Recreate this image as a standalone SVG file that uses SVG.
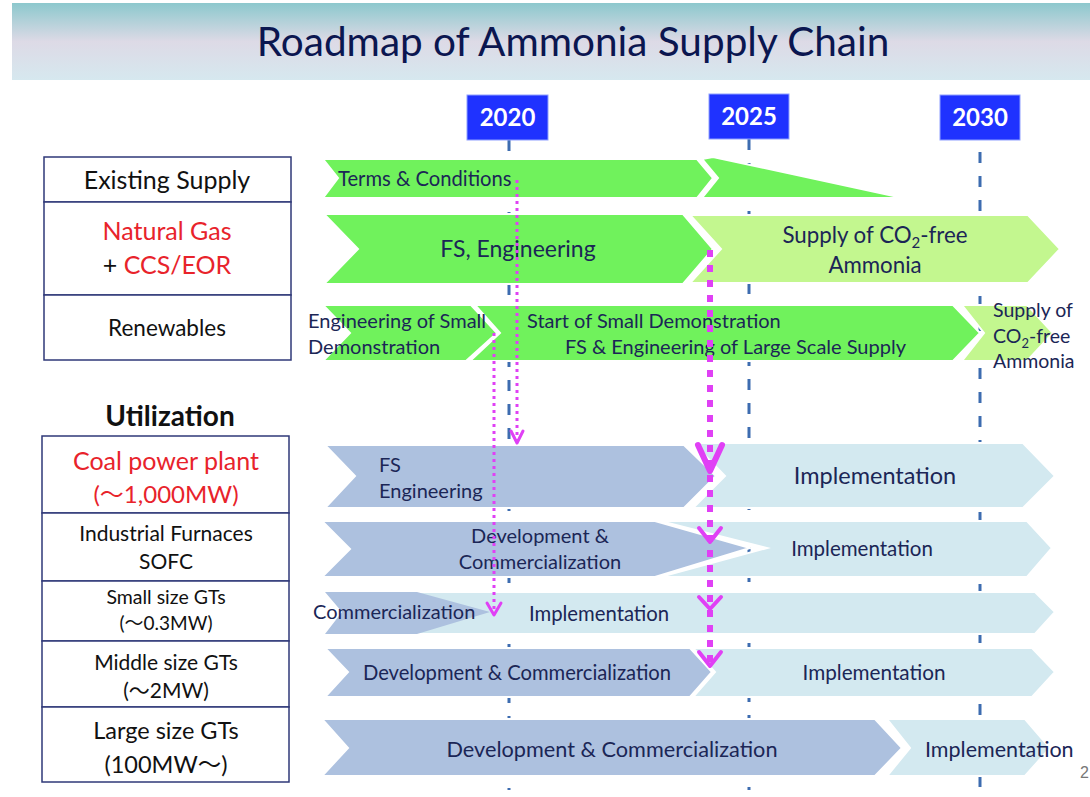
<svg xmlns="http://www.w3.org/2000/svg" width="1090" height="797" viewBox="0 0 1090 797">
<defs>
<linearGradient id="tg" x1="0" y1="0" x2="0" y2="1">
<stop offset="0" stop-color="#8cc8cd"/>
<stop offset="0.5" stop-color="#dddae6"/>
<stop offset="1" stop-color="#d6e8ef"/>
</linearGradient>
<style>
.t{font-family:Lato,"Open Sans","Liberation Sans",sans-serif;fill:#1b2656}
.lb{font-family:Lato,"Noto Sans CJK JP","Liberation Sans",sans-serif;fill:#111}
.red{fill:#e8232b}
.box{fill:#fff;stroke:#2f3878;stroke-width:1.5}
.g{fill:#70f25c;stroke:#fff;stroke-width:2}
.lg{fill:#c3f78f;stroke:#fff;stroke-width:2}
.b{fill:#adc1df;stroke:#fff;stroke-width:2}
.lbl{fill:#d3e9f0;stroke:#fff;stroke-width:2}
.yr{fill:#1f32ff;stroke:#8fa0ff;stroke-width:1}
.yt{font-family:Lato,"Open Sans","Liberation Sans",sans-serif;font-weight:bold;fill:#fff;font-size:24px}
.dl{stroke:#3d6cb0;stroke-width:3;stroke-dasharray:11 13;fill:none}
.m1{stroke:#e040f5;stroke-width:3;stroke-dasharray:3 4;fill:none}
.m2{stroke:#e040f5;stroke-width:6;stroke-dasharray:7 8;fill:none}
.ah{stroke:#e040f5;fill:none;stroke-linecap:round;stroke-linejoin:round}
</style>
</defs>
<rect width="1090" height="797" fill="#fff"/>
<g id="title">
<rect x="12" y="3" width="1078" height="77" fill="url(#tg)"/>
<text x="573" y="56" text-anchor="middle" font-family="Lato,'Open Sans','Liberation Sans',sans-serif" font-size="40.5" fill="#0b1650">Roadmap of Ammonia Supply Chain</text>
</g>
<g id="timeline">
<path class="dl" d="M509 140V790M749 139V790M980 152V790"/>
<g id="y2020"><rect class="yr" x="467" y="95" width="81" height="45"/><text class="yt" x="507.5" y="126" text-anchor="middle">2020</text></g>
<g id="y2025"><rect class="yr" x="709" y="94" width="80" height="45"/><text class="yt" x="749" y="125" text-anchor="middle">2025</text></g>
<g id="y2030"><rect class="yr" x="940" y="95" width="80" height="45"/><text class="yt" x="980" y="126" text-anchor="middle">2030</text></g>
</g>
<g id="labels">
<g id="existing"><rect class="box" x="44" y="157" width="247" height="45"/><text class="lb" x="167" y="189" text-anchor="middle" font-size="25">Existing Supply</text></g>
<g id="natgas"><rect class="box" x="44" y="202" width="247" height="93"/><text class="lb red" x="167" y="240" text-anchor="middle" font-size="25">Natural Gas</text><text class="lb" x="167" y="274" text-anchor="middle" font-size="25">+ <tspan class="red">CCS/EOR</tspan></text></g>
<g id="renew"><rect class="box" x="44" y="295" width="247" height="65"/><text class="lb" x="167" y="336" text-anchor="middle" font-size="22.5">Renewables</text></g>
<text id="util" class="lb" x="170" y="426" text-anchor="middle" font-size="28" font-weight="bold">Utilization</text>
<g id="coal"><rect class="box" x="42" y="436" width="247" height="77"/><text class="lb red" x="166" y="470" text-anchor="middle" font-size="25">Coal power plant</text><text class="lb red" x="166" y="503" text-anchor="middle" font-size="24">(～1,000MW)</text></g>
<g id="furn"><rect class="box" x="42" y="513" width="247" height="68"/><text class="lb" x="166" y="541" text-anchor="middle" font-size="21">Industrial Furnaces</text><text class="lb" x="166" y="569" text-anchor="middle" font-size="21">SOFC</text></g>
<g id="small"><rect class="box" x="42" y="581" width="247" height="60"/><text class="lb" x="166" y="604" text-anchor="middle" font-size="19.5">Small size GTs</text><text class="lb" x="166" y="630" text-anchor="middle" font-size="19">(～0.3MW)</text></g>
<g id="middle"><rect class="box" x="42" y="641" width="247" height="66"/><text class="lb" x="166" y="670" text-anchor="middle" font-size="21">Middle size GTs</text><text class="lb" x="166" y="698" text-anchor="middle" font-size="21">(～2MW)</text></g>
<g id="large"><rect class="box" x="42" y="707" width="247" height="75"/><text class="lb" x="166" y="739" text-anchor="middle" font-size="23.5">Large size GTs</text><text class="lb" x="166" y="773" text-anchor="middle" font-size="23.5">(100MW～)</text></g>
</g>
<g id="row-existing">
<polygon class="g" points="702,159 713,157 903,198 702,198 718,178"/>
<polygon class="g" points="323,159 697,159 713,178 697,198 323,198 338,178"/>
<text class="t" x="338" y="186" font-size="20.2">Terms &amp; Conditions</text>
</g>
<g id="row-natgas">
<polygon class="lg" points="690,215 1028,215 1060,249 1028,283 690,283 721,249"/>
<polygon class="g" points="324,214 683,214 713,249 683,284 324,284 358,249"/>
<text class="t" x="518" y="257" text-anchor="middle" font-size="23">FS, Engineering</text>
<text class="t" x="875" y="243" text-anchor="middle" font-size="22.3">Supply of CO<tspan font-size="15" dy="5">2</tspan><tspan dy="-5">-free</tspan></text>
<text class="t" x="875" y="273" text-anchor="middle" font-size="22.3">Ammonia</text>
</g>
<g id="row-renew">
<polygon class="lg" points="962,305 1027,305 1053,333 1027,361 962,361 984,333"/>
<polygon class="g" points="475,305 953,305 980,333 953,361 470,361 500,333"/>
<polygon class="g" points="323,305 471,305 497,333 466,361 323,361 350,333"/>
<text class="t" x="308" y="328" font-size="20">Engineering of Small</text>
<text class="t" x="308" y="354" font-size="20">Demonstration</text>
<text class="t" x="527" y="328" font-size="20">Start of Small Demonstration</text>
<text class="t" x="565" y="354" font-size="20">FS &amp; Engineering of Large Scale Supply</text>
<text class="t" x="993" y="317" font-size="19.5">Supply of</text>
<text class="t" x="993" y="343" font-size="19.5">CO<tspan font-size="13" dy="5">2</tspan><tspan dy="-5">-free</tspan></text>
<text class="t" x="993" y="368" font-size="19.5">Ammonia</text>
</g>
<g id="row-coal">
<polygon class="lbl" points="693,443 1023,443 1055,476 1023,508 693,508 725,476"/>
<polygon class="b" points="325,445 684,445 716,476 684,508 325,508 355,476"/>
<text class="t" x="379" y="472" font-size="20">FS</text>
<text class="t" x="379" y="498" font-size="20">Engineering</text>
<text class="t" x="875" y="484" text-anchor="middle" font-size="23.5">Implementation</text>
</g>
<g id="row-furn">
<polygon class="lbl" points="660,521 1027,521 1052,548 1027,577 660,577 767,548"/>
<polygon class="b" points="322,521 655,521 750,548 655,577 322,577 350,549"/>
<text class="t" x="540" y="543" text-anchor="middle" font-size="20">Development &amp;</text>
<text class="t" x="540" y="569" text-anchor="middle" font-size="20">Commercialization</text>
<text class="t" x="862" y="556" text-anchor="middle" font-size="20.5">Implementation</text>
</g>
<g id="row-small">
<polygon class="lbl" points="417,592 1035,592 1055,612 1035,634 417,634"/>
<polygon fill="#adc1df" points="325,592 417,592 490,612 417,634 325,634 342,612"/>
<text class="t" x="313" y="619" font-size="20">Commercialization</text>
<text class="t" x="529" y="621" font-size="20.3">Implementation</text>
</g>
<g id="row-middle">
<polygon class="lbl" points="693,648 1032,648 1055,672 1032,697 693,697 715,672"/>
<polygon class="b" points="325,648 690,648 712,672 690,697 325,697 348,672"/>
<text class="t" x="517" y="680" text-anchor="middle" font-size="20.2">Development &amp; Commercialization</text>
<text class="t" x="874" y="680" text-anchor="middle" font-size="20.7">Implementation</text>
</g>
<g id="row-large">
<polygon class="lbl" points="887,719 1025,719 1050,748 1025,776 887,776 910,748"/>
<polygon class="b" points="322,719 875,719 902,748 875,776 322,776 348,748"/>
<text class="t" x="612" y="757" text-anchor="middle" font-size="21.7">Development &amp; Commercialization</text>
<text class="t" x="925" y="757" font-size="21.5">Implementation</text>
</g>
<g id="connectors">
<path class="m1" d="M517 180V440"/>
<polyline class="ah" stroke-width="3" points="511,431 517,443 523,431"/>
<path class="m1" d="M494 333V612"/>
<polyline class="ah" stroke-width="3" points="487,603 494,615 501,603"/>
<path class="m2" d="M710 250V667"/>
<polyline class="ah" stroke-width="6" points="698,445 710,471 722,445"/>
<polyline class="ah" stroke-width="4" points="699,528 710,542 721,528"/>
<polyline class="ah" stroke-width="4" points="699,597 710,609 721,597"/>
<polyline class="ah" stroke-width="4" points="699,652 710,666 721,652"/>
</g>
<text x="1080" y="778" font-family="'Liberation Sans',sans-serif" font-size="16" fill="#777">2</text>
</svg>
